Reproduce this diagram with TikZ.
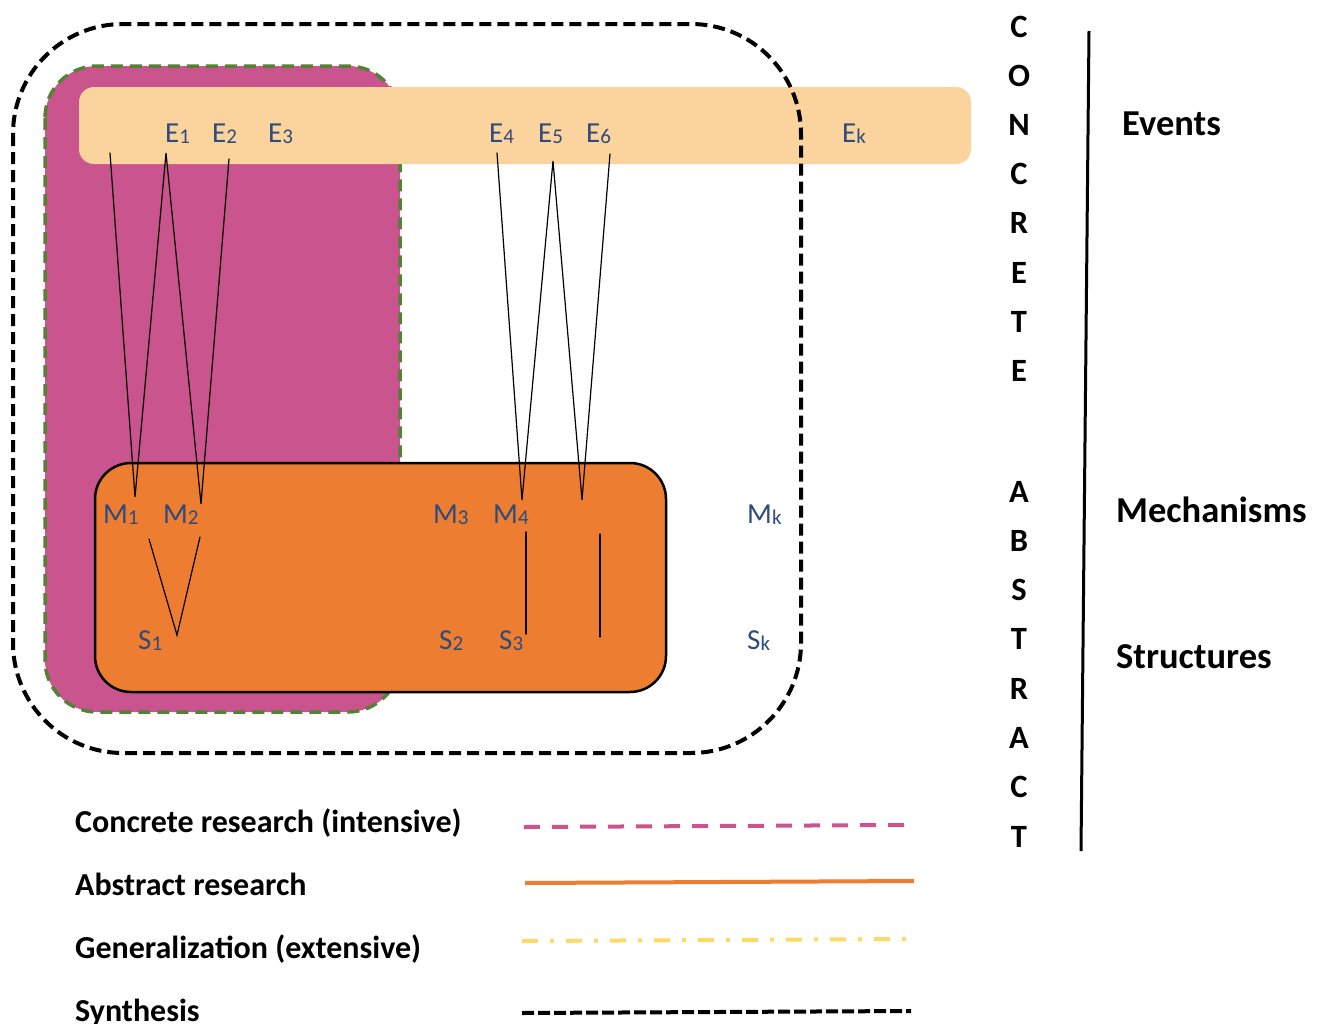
\documentclass[tikz,border=0pt]{standalone}
\usepackage{fontspec}
\setmainfont{Carlito}
\definecolor{concretefill}{HTML}{C9548E}
\definecolor{concreteedge}{HTML}{548235}
\definecolor{eventband}{HTML}{FBD49D}
\definecolor{abstractfill}{HTML}{ED7D31}
\definecolor{generalline}{HTML}{FFD966}
\definecolor{labelblue}{HTML}{2F4A7C}
% lowered, smaller index for the element labels
\newcommand{\lowidx}[1]{\raisebox{-1.5pt}{\fontsize{21}{21}\selectfont #1}}
\begin{document}
\begin{tikzpicture}[x=1pt,y=-1pt,
  lbl/.style={inner sep=0pt, anchor=base west, text=labelblue, font=\fontsize{29}{29}\selectfont},
  side/.style={inner sep=0pt, anchor=base west, font=\fontsize{36.5}{36.5}\selectfont\bfseries},
  letter/.style={inner sep=0pt, anchor=base, font=\fontsize{32.5}{32.5}\selectfont\bfseries},
  legendtext/.style={inner sep=0pt, anchor=base west, font=\fontsize{32}{32}\selectfont\bfseries},
  link/.style={line width=1.2pt, black, line cap=round},
  legendline/.style={line width=4pt}]

\useasboundingbox (0,0) rectangle (1328,1023);

% concrete research area
\path[fill=concretefill, draw=concreteedge, line width=3.5pt, dash pattern=on 12pt off 7pt,
      rounded corners=52pt] (45,66) rectangle (400,712);

% band of events
\path[fill=eventband, rounded corners=15pt] (79,87) rectangle (971,164);

% synthesis boundary
\draw[line width=4pt, dash pattern=on 12pt off 6pt, rounded corners=110pt]
  (13,24) rectangle (801,753);

% abstract research box
\draw[fill=abstractfill, line width=2.5pt, rounded corners=36pt] (95,463) rectangle (666,692);

% junction points of the links
\coordinate (e0) at (110,153);
\coordinate (e1) at (166,153);
\coordinate (e2) at (229,159);
\coordinate (m1) at (135,497);
\coordinate (m2) at (201,504);
\coordinate (e4) at (497,153);
\coordinate (e5) at (553,161);
\coordinate (e6) at (610,154);
\coordinate (m4) at (522,500);
\coordinate (m5) at (582,500);
\coordinate (s1a) at (149,539);
\coordinate (s1) at (177,635);
\coordinate (s1b) at (200,537);
\coordinate (v1t) at (526,532);
\coordinate (v1b) at (526,634);
\coordinate (v2t) at (600,534);
\coordinate (v2b) at (600,637);

% events to mechanisms
\draw[link] (e0) -- (m1) -- (e1) -- (m2) -- (e2);
\draw[link] (e4) -- (m4) -- (e5) -- (m5) -- (e6);
% mechanisms to structures
\draw[link] (s1a) -- (s1) -- (s1b);
\draw[link] (v1t) -- (v1b);
\draw[link] (v2t) -- (v2b);

% element labels
\node[lbl] (E1) at (165,142) {E\lowidx{1}};
\node[lbl] (E2) at (212,142) {E\lowidx{2}};
\node[lbl] (E3) at (268,142) {E\lowidx{3}};
\node[lbl] (E4) at (489,142) {E\lowidx{4}};
\node[lbl] (E5) at (538,142) {E\lowidx{5}};
\node[lbl] (E6) at (586,142) {E\lowidx{6}};
\node[lbl] (Ek) at (842,142) {E\lowidx{k}};
\node[lbl] (M1) at (103,523) {M\lowidx{1}};
\node[lbl] (M2) at (163,523) {M\lowidx{2}};
\node[lbl] (M3) at (433,523) {M\lowidx{3}};
\node[lbl] (M4) at (493,523) {M\lowidx{4}};
\node[lbl] (Mk) at (747,523) {M\lowidx{k}};
\node[lbl] (S1) at (138,649) {S\lowidx{1}};
\node[lbl] (S2) at (439,649) {S\lowidx{2}};
\node[lbl] (S3) at (499,649) {S\lowidx{3}};
\node[lbl] (Sk) at (747,649) {S\lowidx{k}};

% concrete / abstract scale
\foreach \ch [count=\i from 0] in {C,O,N,C,R,E,T,E}
  \node[letter] (con\i) at (1019,37+49.2*\i) {\ch};
\foreach \ch [count=\i from 0] in {A,B,S,T,R,A,C,T}
  \node[letter] (abs\i) at (1019,502+49.3*\i) {\ch};
\coordinate (axtop) at (1089,31);
\coordinate (axbot) at (1081,851);
\draw[line width=3pt] (axtop) -- (axbot);
\node[side] (events) at (1122,135) {Events};
\node[side] (mech) at (1116,522) {Mechanisms};
\node[side] (struct) at (1116,668) {Structures};

% legend
\node[legendtext] (lg1) at (75,832) {Concrete research (intensive)};
\node[legendtext] (lg2) at (75,895) {Abstract research};
\node[legendtext] (lg3) at (75,958) {Generalization (extensive)};
\node[legendtext] (lg4) at (75,1021) {Synthesis};
\coordinate (l1a) at (524,827); \coordinate (l1b) at (904,825);
\coordinate (l2a) at (525,883); \coordinate (l2b) at (914,881);
\coordinate (l3a) at (522,941); \coordinate (l3b) at (906,939);
\coordinate (l4a) at (522,1013); \coordinate (l4b) at (911,1011);
\draw[legendline, concretefill, dash pattern=on 16pt off 12pt] (l1a) -- (l1b);
\draw[legendline, abstractfill] (l2a) -- (l2b);
\draw[legendline, generalline, dash pattern=on 16pt off 12pt on 4pt off 12pt] (l3a) -- (l3b);
\draw[legendline, black, dash pattern=on 12pt off 4pt] (l4a) -- (l4b);
\end{tikzpicture}
\end{document}
